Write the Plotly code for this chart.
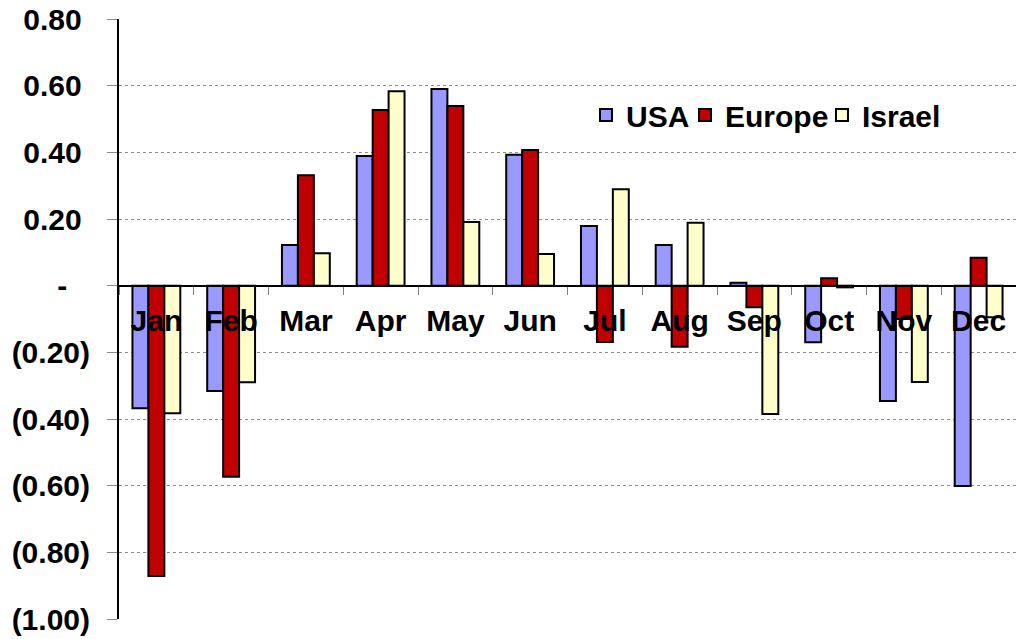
import plotly.graph_objects as go

months = ["Jan", "Feb", "Mar", "Apr", "May", "Jun", "Jul", "Aug", "Sep", "Oct", "Nov", "Dec"]
usa = [-0.368, -0.316, 0.122, 0.389, 0.590, 0.393, 0.179, 0.122, 0.009, -0.170, -0.346, -0.601]
europe = [-0.871, -0.573, 0.331, 0.527, 0.539, 0.407, -0.169, -0.183, -0.065, 0.022, -0.100, 0.084]
israel = [-0.383, -0.290, 0.097, 0.583, 0.191, 0.095, 0.289, 0.189, -0.385, -0.005, -0.289, -0.095]

y_tickvals = [-1.0, -0.8, -0.6, -0.4, -0.2, 0.0, 0.2, 0.4, 0.6, 0.8]
y_ticktext = ["(1.00)", "(0.80)", "(0.60)", "(0.40)", "(0.20)", "-\u00a0\u2009\u00a0",
              "0.20\u00a0", "0.40\u00a0", "0.60\u00a0", "0.80\u00a0"]

FONT = "Liberation Sans, Arial, sans-serif"
LEGFONT = dict(family=FONT, size=30, color="black", weight="bold")

fig = go.Figure()
series = [("USA", usa, "#9999FF", "legend"),
          ("Europe", europe, "#C00000", "legend2"),
          ("Israel", israel, "#FFFFCC", "legend3")]
for name, vals, color, leg in series:
    fig.add_trace(go.Bar(
        x=months, y=vals, name=name, legend=leg,
        marker=dict(color=color, line=dict(color="black", width=2)),
    ))

def legend_at(xf):
    return dict(
        orientation="h", x=xf, xanchor="left", y=0.84, yanchor="middle",
        font=LEGFONT, bgcolor="rgba(0,0,0,0)", itemwidth=30,
    )

fig.update_layout(
    width=1016, height=639,
    margin=dict(l=119, r=0, t=19, b=20),
    paper_bgcolor="white", plot_bgcolor="white",
    barmode="group", bargap=0.36, bargroupgap=0,
    font=dict(family=FONT, size=30, color="black"),
    showlegend=True,
    legend=legend_at(0.5206),
    legend2=legend_at(0.631),
    legend3=legend_at(0.7837),
    xaxis=dict(
        type="category", categoryorder="array", categoryarray=months,
        range=[-0.5, 11.5],
        anchor="free", position=1 / 1.8,
        showline=True, linecolor="black", linewidth=2,
        showgrid=False, zeroline=False,
        ticks="outside", ticklen=8, tickcolor="#808080", tickwidth=1,
        tickson="boundaries",
        ticklabelstandoff=8,
        tickfont=dict(family=FONT, size=30, color="black", weight="bold"),
        automargin=False,
    ),
    yaxis=dict(
        range=[-1.0, 0.8],
        tickvals=y_tickvals, ticktext=y_ticktext,
        showline=True, linecolor="black", linewidth=2,
        showgrid=True, gridcolor="#8c8c8c", gridwidth=1, griddash="dot",
        zeroline=False,
        ticks="outside", ticklen=10, tickcolor="#8c8c8c", tickwidth=1,
        ticklabelstandoff=11,
        tickfont=dict(family=FONT, size=30, color="black", weight="bold"),
        automargin=False,
    ),
)

fig.write_html(
    "out.html",
    config={"displayModeBar": False},
    post_script="document.body.style.margin='0';document.body.style.padding='0';document.body.style.overflow='hidden';",
)
